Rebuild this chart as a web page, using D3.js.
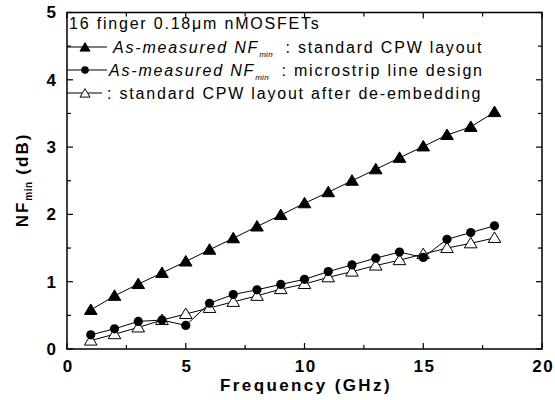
<!DOCTYPE html>
<html><head><meta charset="utf-8">
<script src="https://cdn.jsdelivr.net/npm/d3@7"></script>
<style>body{margin:0;background:#fff}svg{display:block;font-family:Arial,"Liberation Sans",sans-serif}</style>
</head><body><svg id="c" width="555" height="400"></svg>
<script>
const freq = [1,2,3,4,5,6,7,8,9,10,11,12,13,14,15,16,17,18];
const cpwMeasured = [0.58,0.79,0.965,1.13,1.30,1.475,1.645,1.82,1.99,2.165,2.33,2.50,2.67,2.84,3.01,3.18,3.30,3.52];
const microstrip = [0.21,0.30,0.41,0.43,0.35,0.68,0.81,0.88,0.96,1.035,1.15,1.25,1.35,1.44,1.36,1.63,1.73,1.83];
const cpwDeembedded = [0.125,0.22,0.32,0.43,0.52,0.61,0.70,0.79,0.89,0.965,1.065,1.15,1.24,1.32,1.41,1.50,1.57,1.65];
const xTicks = [0,5,10,15,20];
const yTicks = [0,1,2,3,4,5];

const svg = d3.select("#c");
const L = 67, R = 542, T = 12.5, B = 349;
const x = d3.scaleLinear().domain([0,20]).range([L,R]);
const y = d3.scaleLinear().domain([0,5]).range([B,T]);
const FF = "Arial,'Liberation Sans',sans-serif";

// frame
svg.append("rect").attr("x",L).attr("y",T).attr("width",R-L).attr("height",B-T)
  .attr("fill","none").attr("stroke","#000").attr("stroke-width",1.5);

// ticks (inward on all sides)
const xMinor = d3.range(0,20.01,2.5), yMinor = d3.range(0,5.01,0.5);
const tg = svg.append("g").attr("stroke","#000").attr("stroke-width",1.2);
xMinor.forEach(v=>{
  const len = (v%5===0)?6:4;
  tg.append("line").attr("x1",x(v)).attr("x2",x(v)).attr("y1",B).attr("y2",B-len);
  tg.append("line").attr("x1",x(v)).attr("x2",x(v)).attr("y1",T).attr("y2",T+len);
});
yMinor.forEach(v=>{
  const len = (v%1===0)?6:4;
  tg.append("line").attr("y1",y(v)).attr("y2",y(v)).attr("x1",L).attr("x2",L+len);
  tg.append("line").attr("y1",y(v)).attr("y2",y(v)).attr("x1",R).attr("x2",R-len);
});

// tick labels via axes (text only)
const xa = svg.append("g").attr("transform",`translate(0,${B})`)
  .call(d3.axisBottom(x).tickValues(xTicks).tickSize(0).tickPadding(11).tickFormat(d3.format("d")));
xa.select(".domain").remove();
xa.selectAll("text").attr("font-size",17).attr("font-weight","bold").attr("font-family",FF)
  .attr("fill","#000").attr("letter-spacing",1.5).attr("dx",0.75);
const ya = svg.append("g").attr("transform",`translate(${L},0)`)
  .call(d3.axisLeft(y).tickValues(yTicks).tickSize(0).tickPadding(11).tickFormat(d3.format("d")));
ya.select(".domain").remove();
ya.selectAll("text").attr("font-size",17).attr("font-weight","bold").attr("font-family",FF).attr("fill","#000");

// axis titles
svg.append("text").attr("x",306).attr("y",391).attr("text-anchor","middle")
  .attr("font-size",17).attr("font-weight","bold").attr("letter-spacing",2.4).text("Frequency (GHz)");
const yl = svg.append("text").attr("transform","translate(28,180) rotate(-90)")
  .attr("text-anchor","middle").attr("font-size",17).attr("font-weight","bold").attr("letter-spacing",2);
yl.append("tspan").text("NF");
yl.append("tspan").attr("font-size",10).attr("dy",4).attr("letter-spacing",0.5).text("min");
yl.append("tspan").attr("dy",-4).text(" (dB)");

// symbols
function tri(cx,cy,h){ return `M${cx},${cy-h}L${cx+h*1.05},${cy+h*0.75}L${cx-h*1.05},${cy+h*0.75}Z`; }
const line = d3.line().x((d,i)=>x(freq[i])).y(d=>y(d));

function series(vals, kind){
  svg.append("path").attr("d",line(vals)).attr("fill","none").attr("stroke","#000").attr("stroke-width",1);
  const g = svg.append("g");
  vals.forEach((v,i)=>{
    const cx = x(freq[i]), cy = y(v);
    if(kind==="circle") g.append("circle").attr("cx",cx).attr("cy",cy).attr("r",4.6).attr("fill","#000");
    else g.append("path").attr("d",tri(cx,cy,6)).attr("fill",kind==="filled"?"#000":"#fff").attr("stroke","#000").attr("stroke-width",1);
  });
}
series(cpwDeembedded,"open");
series(microstrip,"circle");
series(cpwMeasured,"filled");

// legend
const fs = 16, ls = 1.8;
svg.append("text").attr("x",69).attr("y",29).attr("font-size",fs).attr("letter-spacing",ls).text("16 finger 0.18\u03BCm nMOSFETs");
const rows = [
  {y:47, kind:"filled", le:107, lx:113, lead:"As-measured NF", tail:" : standard CPW layout"},
  {y:70, kind:"circle", le:107, lx:109, lead:"As-measured NF", tail:" :  microstrip line design"},
  {y:93, kind:"open", le:102, lx:107, lead:null, tail:": standard CPW layout after de-embedding"}
];
rows.forEach(r=>{
  svg.append("line").attr("x1",L).attr("x2",r.le).attr("y1",r.y).attr("y2",r.y).attr("stroke","#000").attr("stroke-width",1);
  if(r.kind==="circle") svg.append("circle").attr("cx",85).attr("cy",r.y).attr("r",3.8).attr("fill","#000");
  else svg.append("path").attr("d",tri(85,r.y+0.5,4.8)).attr("fill",r.kind==="filled"?"#000":"#fff").attr("stroke","#000");
  const t = svg.append("text").attr("x",r.lx).attr("y",r.y+5.5).attr("font-size",fs).attr("letter-spacing",ls);
  if(r.lead){
    t.append("tspan").attr("font-style","italic").text(r.lead);
    t.append("tspan").attr("font-style","italic").attr("font-size",8).attr("dy",4).attr("letter-spacing",0.3).text("min");
    t.append("tspan").attr("dy",-4).text("\u00A0"+r.tail);
  } else {
    t.append("tspan").text(r.tail);
  }
});
</script></body></html>
